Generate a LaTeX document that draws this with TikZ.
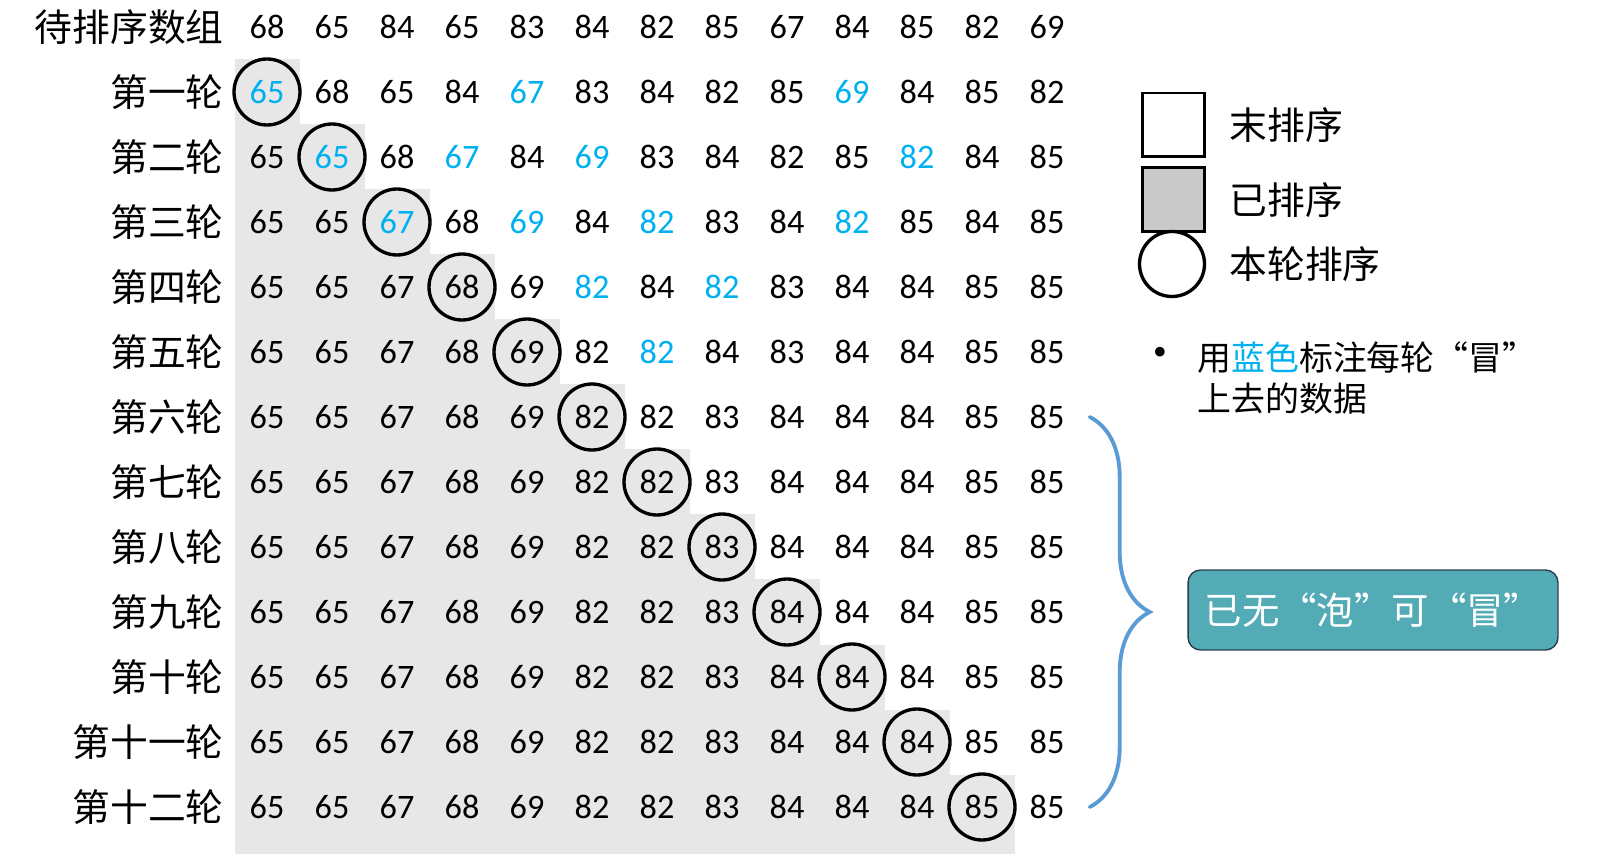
\documentclass[tikz,border=0pt]{standalone}
\usepackage{fontspec}
\setmainfont{Noto Sans CJK SC}
\newfontfamily\numfont{Carlito}
\usetikzlibrary{positioning}
\usetikzlibrary{decorations.pathreplacing}
\usetikzlibrary{calc}

\definecolor{bubble}{RGB}{0,176,240}
\definecolor{sortedgray}{RGB}{231,231,231}
\definecolor{legendgray}{RGB}{201,201,201}
\definecolor{bracecol}{RGB}{91,155,213}
\definecolor{boxfill}{RGB}{82,171,181}
\definecolor{boxline}{RGB}{40,62,80}

\newcommand\bl[1]{\textcolor{bubble}{#1}}

\tikzset{
  rowlab/.style={anchor=east, inner sep=0pt, font=\fontsize{21.5pt}{26pt}\selectfont},
  num/.style={inner sep=0pt, font=\numfont\fontsize{19.5pt}{23pt}\selectfont},
  sorted/.style={fill=sortedgray},
  cur/.style={draw=black, line width=1.9pt},
  legbox/.style={draw=black, line width=1.7pt, minimum width=1.24cm, minimum height=1.28cm, inner sep=0pt},
  legtext/.style={inner sep=0pt, font=\fontsize{21.5pt}{26pt}\selectfont},
  nobubble/.style={draw=boxline, line width=0.8pt, fill=boxfill, rounded corners=0.25cm,
    minimum width=7.4cm, minimum height=1.6cm, text=white, font=\fontsize{21.3pt}{25pt}\selectfont},
}

\begin{document}
\begin{tikzpicture}[x=0.02cm, y=-0.02cm]
\useasboundingbox (0,0) rectangle (1606,854);

% sorted part (grey staircase)
\foreach \r in {1,...,12}
  \fill[sorted] (234.5, {27+65*\r-32.5}) rectangle ({267+65*(\r-1)+32.5}, 854);

% row labels
\foreach \lab [count=\r from 0] in {待排序数组,第一轮,第二轮,第三轮,第四轮,第五轮,第六轮,
    第七轮,第八轮,第九轮,第十轮,第十一轮,第十二轮}
  \node[rowlab] (lab\r) at (224, {27+65*\r}) {\lab};

% numbers
\foreach \vals [count=\r from 0] in {
  {68,65,84,65,83,84,82,85,67,84,85,82,69},
  {\bl{65},68,65,84,\bl{67},83,84,82,85,\bl{69},84,85,82},
  {65,\bl{65},68,\bl{67},84,\bl{69},83,84,82,85,\bl{82},84,85},
  {65,65,\bl{67},68,\bl{69},84,\bl{82},83,84,\bl{82},85,84,85},
  {65,65,67,68,69,\bl{82},84,\bl{82},83,84,84,85,85},
  {65,65,67,68,69,82,\bl{82},84,83,84,84,85,85},
  {65,65,67,68,69,82,82,83,84,84,84,85,85},
  {65,65,67,68,69,82,82,83,84,84,84,85,85},
  {65,65,67,68,69,82,82,83,84,84,84,85,85},
  {65,65,67,68,69,82,82,83,84,84,84,85,85},
  {65,65,67,68,69,82,82,83,84,84,84,85,85},
  {65,65,67,68,69,82,82,83,84,84,84,85,85},
  {65,65,67,68,69,82,82,83,84,84,84,85,85}}
{
  \foreach \v [count=\c] in \vals
    \node[num] (n\r-\c) at ({267+65*(\c-1)}, {27+65*\r}) {\v};
}

% this round
\foreach \k in {1,...,12}
  \draw[cur] (n\k-\k.center) circle (33);

% legend
\node[legbox] (unsorted) at (1173,125) {};
\node[legbox, fill=legendgray, below=0.16cm of unsorted] (done) {};
\node[cur, circle, minimum size=1.3cm, inner sep=0pt] (round) at (1172,264) {};
\node[legtext, right=0.48cm of unsorted] (tunsorted) {末排序};
\node[legtext, right=0.48cm of done] (tdone) {已排序};
\node[legtext, right=0.46cm of round] (tround) {本轮排序};

\node[inner sep=0pt, font=\fontsize{26pt}{28pt}\selectfont] (dot) at (1160,358) {•};
\node[anchor=west, align=left, inner sep=0pt, font=\fontsize{19.3pt}{23.3pt}\selectfont]
  (note) at (1197,378) {用\bl{蓝色}标注每轮“冒”\\上去的数据};

% no more bubbles
\coordinate[right=0.5cm of n6-13] (bt);
\coordinate[right=0.5cm of n12-13] (bb);
\draw[bracecol, line width=2.2pt, line cap=round,
  decorate, decoration={brace, amplitude=1.2cm}] (bt) -- (bb);
\node[nobubble] (none) at (1373,610) {已无“泡”可“冒”};

\end{tikzpicture}
\end{document}
